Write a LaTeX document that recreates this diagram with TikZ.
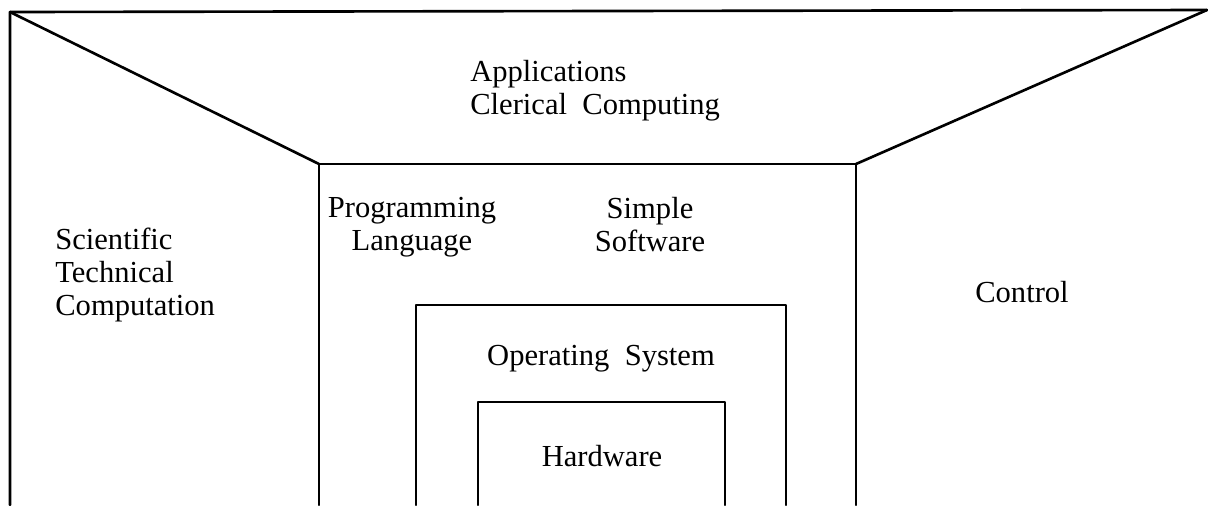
\documentclass[tikz,border=0pt]{standalone}
\usepackage{fontspec}
\setmainfont{Liberation Serif}
\newcommand{\labelfont}{\fontsize{17.4}{18.8}\selectfont}
\tikzset{
    wall/.style={line width=1.5pt, line cap=round, line join=round},
    label/.style={font=\labelfont, inner sep=0pt, align=center}
}

\begin{document}
\begin{tikzpicture}[x=0.02cm, y=-0.02cm]
\useasboundingbox (0,0) rectangle (1208,505);

%Ecken des Raumes
    \coordinate (otl) at (10,12);
    \coordinate (otr) at (1207,10);
    \coordinate (obl) at (10,505);
    \coordinate (itl) at (319,164);
    \coordinate (itr) at (856,164);
    \coordinate (ibl) at (319,505);
    \coordinate (ibr) at (856,505);

    %Wand und Decke
    \draw[wall] (obl) -- (otl) -- (otr);
    \draw[wall] (otl) -- (itl);
    \draw[wall] (otr) -- (itr);
    \draw[wall] (ibl) -- (itl) -- (itr) -- (ibr);

%Innere Kaesten
    %Betriebssystem
    \draw[wall] (416,505) -- (416,305) -- (786,305) -- (786,505);
    %Hardware
    \draw[wall] (478,505) -- (478,402) -- (725,402) -- (725,505);

%Beschriftungen
    \node (apps) at (470,60)
        [label, anchor=north west, align=left]
        {Applications \\ Clerical\ \ Computing};
    \node (sci) at (55,228)
        [label, anchor=north west, align=left]
        {Scientific \\ Technical \\ Computation};
    \node (prog) at (412,197)
        [label, anchor=north]
        {Programming \\ Language};
    \node (simple) at (650,197)
        [label, anchor=north]
        {Simple \\ Software};
    \node (ctrl) at (1022,281)
        [label, anchor=north]
        {Control};
    \node (os) at (601,345)
        [label, anchor=north]
        {Operating\ \ System};
    \node (hw) at (602,445)
        [label, anchor=north]
        {Hardware};

\end{tikzpicture}
\end{document}
